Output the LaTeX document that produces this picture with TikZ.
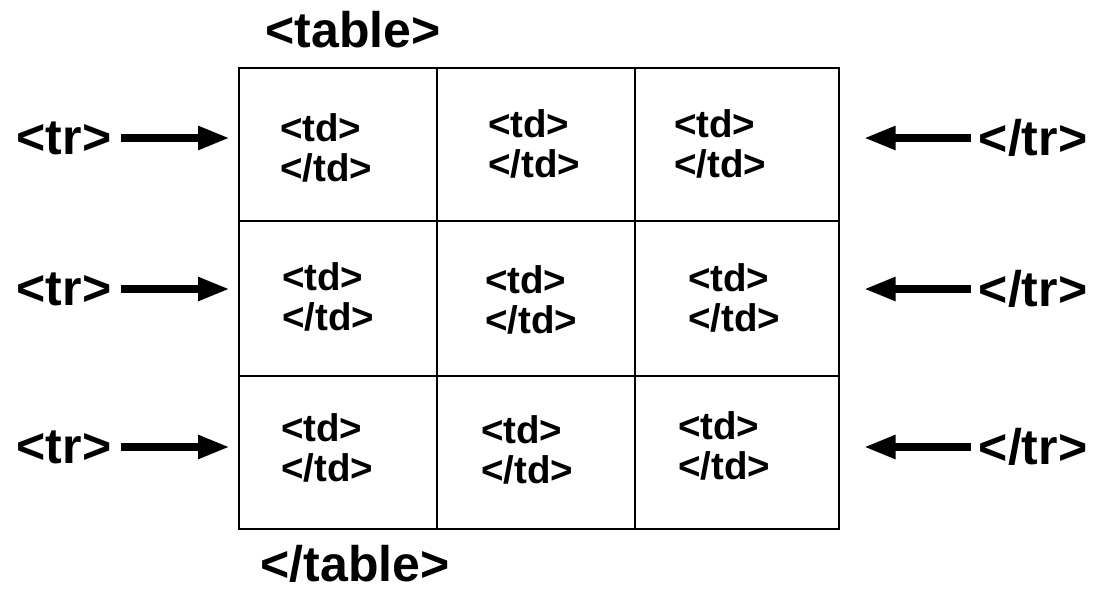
\documentclass[tikz,border=0pt]{standalone}
\usepackage{fontspec}
\setmainfont{Liberation Sans}
\usetikzlibrary{arrows.meta, positioning}

\begin{document}
\begin{tikzpicture}[
    x=1pt, y=-1pt,
    cell/.style={draw, line width=1.6pt, minimum height=153pt, inner sep=0pt, anchor=north west},
    tag/.style={font=\fontsize{50}{52}\selectfont\bfseries, inner sep=0pt},
    tdtext/.style={font=\fontsize{38.5}{40}\selectfont\bfseries, align=left, inner sep=0pt},
    rowarrow/.style={line width=8pt, -{Triangle[length=32pt,width=22pt]}}
]
    \useasboundingbox (0,0) rectangle (1102,590);

    % Table cells
    \node[cell, minimum width=198pt] (c11) at (238,67) {};
    \node[cell, minimum width=198pt] (c12) at (436,67) {};
    \node[cell, minimum width=204pt] (c13) at (634,67) {};
    \node[cell, minimum width=198pt, minimum height=155pt] (c21) at (238,220) {};
    \node[cell, minimum width=198pt, minimum height=155pt] (c22) at (436,220) {};
    \node[cell, minimum width=204pt, minimum height=155pt] (c23) at (634,220) {};
    \node[cell, minimum width=198pt] (c31) at (238,375) {};
    \node[cell, minimum width=198pt] (c32) at (436,375) {};
    \node[cell, minimum width=204pt] (c33) at (634,375) {};

    % Cell contents
    \node[tdtext] (t11) at (326,148) {<td>\\</td>};
    \node[tdtext] (t12) at (534,144) {<td>\\</td>};
    \node[tdtext] (t13) at (720,144) {<td>\\</td>};
    \node[tdtext] (t21) at (328,297) {<td>\\</td>};
    \node[tdtext] (t22) at (531,300) {<td>\\</td>};
    \node[tdtext] (t23) at (734,298) {<td>\\</td>};
    \node[tdtext] (t31) at (327,448) {<td>\\</td>};
    \node[tdtext] (t32) at (527,450) {<td>\\</td>};
    \node[tdtext] (t33) at (724,446) {<td>\\</td>};

    % Table tags
    \node[tag] (topen) at (353,30) {<table>};
    \node[tag] (tclose) at (355,564) {</table>};

    % Row tags
    \node[tag] (ro1) at (64,138) {<tr>};
    \node[tag] (ro2) at (64,289) {<tr>};
    \node[tag] (ro3) at (64,447) {<tr>};
    \node[tag] (rc1) at (1033,138) {</tr>};
    \node[tag] (rc2) at (1033,289) {</tr>};
    \node[tag] (rc3) at (1033,447) {</tr>};

    % Arrows
    \draw[rowarrow, shorten >=8pt] (ro1.east) ++(10,0) coordinate (a1) (a1) -- (a1 -| c11.west);
    \draw[rowarrow, shorten >=8pt] (ro2.east) ++(10,0) coordinate (a2) (a2) -- (a2 -| c21.west);
    \draw[rowarrow, shorten >=8pt] (ro3.east) ++(10,0) coordinate (a3) (a3) -- (a3 -| c31.west);
    \draw[rowarrow, shorten >=24pt] (rc1.west) ++(-8,0) coordinate (b1) (b1) -- (b1 -| c13.east);
    \draw[rowarrow, shorten >=24pt] (rc2.west) ++(-8,0) coordinate (b2) (b2) -- (b2 -| c23.east);
    \draw[rowarrow, shorten >=24pt] (rc3.west) ++(-8,0) coordinate (b3) (b3) -- (b3 -| c33.east);
\end{tikzpicture}
\end{document}
